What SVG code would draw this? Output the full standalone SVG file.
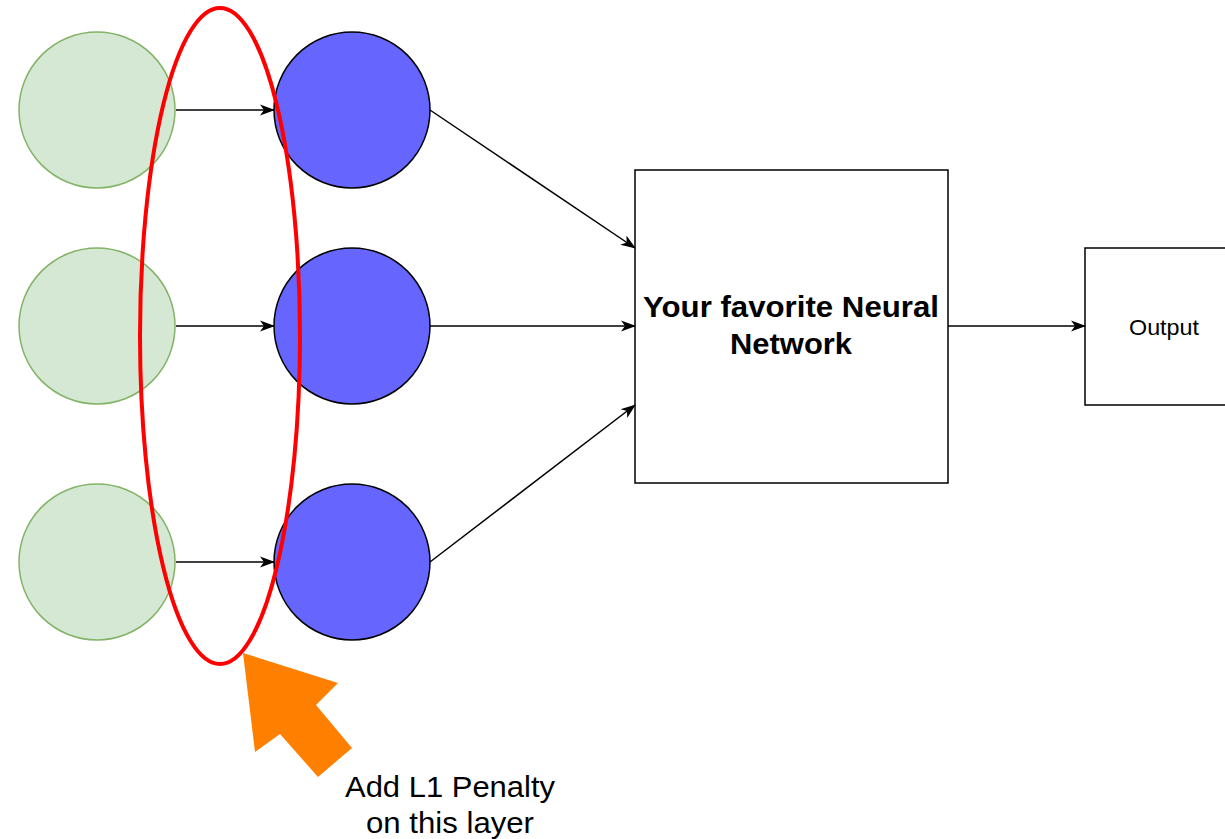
<svg xmlns="http://www.w3.org/2000/svg" width="1225" height="839" viewBox="0 0 1225 839">
  <style>
    .input { fill: #d5e8d4; stroke: #82b366; stroke-width: 1.5; }
    .hidden { fill: #6666ff; stroke: #000000; stroke-width: 1.5; }
    .box { fill: #ffffff; stroke: #000000; stroke-width: 1.5; }
    .edge { fill: none; stroke: #000000; stroke-width: 1.5; marker-end: url(#arrow); }
    .label { font-family: "Liberation Sans", Arial, sans-serif; fill: #000000; text-anchor: middle; }
  </style>
  <defs>
    <marker id="arrow" viewBox="0 0 15 13" refX="14" refY="6.5" markerWidth="15" markerHeight="13" markerUnits="userSpaceOnUse" orient="auto">
      <path d="M0,1 L15,6.5 L0,12 L4,6.5 Z" fill="#000000"/>
    </marker>
  </defs>
  <rect width="1225" height="839" fill="#ffffff"/>

  <!-- input layer -->
  <g id="in1"><circle class="input" cx="97" cy="110" r="78"/></g>
  <g id="in2"><circle class="input" cx="97" cy="326" r="78"/></g>
  <g id="in3"><circle class="input" cx="97" cy="562" r="78"/></g>

  <!-- sparse layer -->
  <g id="h1"><circle class="hidden" cx="352" cy="110" r="78"/></g>
  <g id="h2"><circle class="hidden" cx="352" cy="326" r="78"/></g>
  <g id="h3"><circle class="hidden" cx="352" cy="562" r="78"/></g>

  <!-- network block -->
  <g id="network">
    <rect class="box" x="635" y="170" width="313" height="313"/>
    <text class="label" x="791" y="317" font-size="30" font-weight="bold" textLength="296" lengthAdjust="spacingAndGlyphs">Your favorite Neural</text>
    <text class="label" x="791" y="354" font-size="30" font-weight="bold" textLength="122" lengthAdjust="spacingAndGlyphs">Network</text>
  </g>

  <!-- output block -->
  <g id="output">
    <rect class="box" x="1085" y="248" width="150" height="157"/>
    <text class="label" x="1164" y="335" font-size="22" textLength="70" lengthAdjust="spacingAndGlyphs">Output</text>
  </g>

  <!-- connectors -->
  <g id="connectors">
    <path class="edge" d="M176,110 L274,110"/>
    <path class="edge" d="M176,326 L274,326"/>
    <path class="edge" d="M176,562 L274,562"/>
    <path class="edge" d="M430,110 L635,248"/>
    <path class="edge" d="M430,326 L635,326"/>
    <path class="edge" d="M430,562 L635,405"/>
    <path class="edge" d="M948,326 L1085,326"/>
  </g>

  <!-- highlight around the sparse layer -->
  <g id="highlight">
    <ellipse cx="220" cy="336" rx="80" ry="328" fill="none" stroke="#ff0000" stroke-width="4"/>
  </g>

  <!-- pointer and note -->
  <g id="pointer">
    <polygon points="243,653 338,683 316,705 352,748 318,777 280,734 255,752" fill="#ff8000"/>
  </g>
  <g id="note">
    <text class="label" x="450" y="797" font-size="29" textLength="210" lengthAdjust="spacingAndGlyphs">Add L1 Penalty</text>
    <text class="label" x="450" y="833" font-size="29" textLength="168" lengthAdjust="spacingAndGlyphs">on this layer</text>
  </g>
</svg>
